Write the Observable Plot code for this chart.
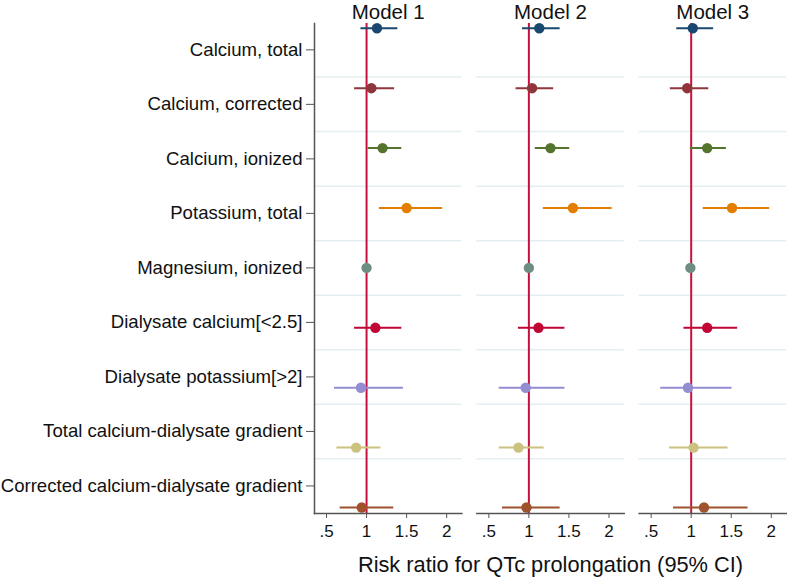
<!DOCTYPE html>
<html>
<head>
<meta charset="utf-8">
<script src="https://cdn.jsdelivr.net/npm/d3@7"></script>
<script src="https://cdn.jsdelivr.net/npm/@observablehq/plot@0.6"></script>
<style>
  html, body { margin: 0; padding: 0; background: #fff; }
  #chart svg { display: block; }
</style>
</head>
<body>
<div id="chart"></div>
<script>
// ---- data ----
const variables = [
  "Calcium, total",
  "Calcium, corrected",
  "Calcium, ionized",
  "Potassium, total",
  "Magnesium, ionized",
  "Dialysate calcium[<2.5]",
  "Dialysate potassium[>2]",
  "Total calcium-dialysate gradient",
  "Corrected calcium-dialysate gradient"
];
const models = ["Model 1", "Model 2", "Model 3"];
const rowPos = [1, 2, 3, 4, 5, 6, 7, 8, 9];
const labelPos = [1.36, 2.27, 3.18, 4.09, 5.0, 5.91, 6.82, 7.73, 8.64];
const colors = ["#1a476f", "#90353b", "#55752f", "#e37e00", "#6e8e84",
                "#c10534", "#938dd2", "#cac27e", "#a0522d"];
const xTicks = [0.5, 1, 1.5, 2];
const xLabel = "Risk ratio for QTc prolongation (95% CI)";
const refValue = 1;

const rr1 = [1.13, 1.06, 1.20, 1.50, 1.00, 1.11, 0.93, 0.87, 0.94];
const lo1 = [0.93, 0.85, 1.02, 1.16, 0.99, 0.85, 0.60, 0.63, 0.67];
const hi1 = [1.39, 1.35, 1.44, 1.95, 1.01, 1.44, 1.46, 1.18, 1.34];

const rr2 = [1.13, 1.04, 1.27, 1.55, 1.00, 1.12, 0.96, 0.87, 0.97];
const lo2 = [0.92, 0.84, 1.08, 1.18, 0.99, 0.87, 0.63, 0.63, 0.67];
const hi2 = [1.39, 1.31, 1.51, 2.04, 1.01, 1.45, 1.45, 1.19, 1.39];

const rr3 = [1.02, 0.95, 1.20, 1.51, 0.99, 1.20, 0.96, 1.03, 1.16];
const lo3 = [0.82, 0.74, 0.99, 1.15, 0.98, 0.91, 0.62, 0.73, 0.78];
const hi3 = [1.28, 1.22, 1.44, 1.98, 1.00, 1.58, 1.51, 1.46, 1.71];

// ---- build table ----
const series = [[rr1, lo1, hi1], [rr2, lo2, hi2], [rr3, lo3, hi3]];
const rows = [];
models.forEach((m, mi) => {
  const [rr, lo, hi] = series[mi];
  variables.forEach((v, i) => {
    rows.push({model: m, variable: v, pos: rowPos[i], rr: rr[i], lo: lo[i], hi: hi[i], color: colors[i]});
  });
});
const gridPos = d3.pairs(labelPos, (a, b) => (a + b) / 2);

const font = "'Liberation Sans', Arial, Helvetica, sans-serif";

const chart = Plot.plot({
  width: 787,
  height: 579,
  marginLeft: 314,
  marginRight: 1,
  marginTop: 23,
  marginBottom: 66,
  style: {fontFamily: font, color: "#111", background: "#fff"},
  fx: {domain: models, paddingInner: 0.092, paddingOuter: 0, round: false},
  x: {domain: [0.35, 2.19]},
  y: {domain: [0.92, 9.1], reverse: true},
  marks: [
    Plot.ruleY(gridPos, {stroke: "#e4eef1", strokeWidth: 1.5}),
    Plot.ruleX([refValue], {stroke: "#c8103e", strokeWidth: 2}),
    Plot.ruleY(rows, {fx: "model", y: "pos", x1: "lo", x2: "hi", stroke: "color", strokeWidth: 2}),
    Plot.dot(rows, {fx: "model", x: "rr", y: "pos", fill: "color", r: 5.2, stroke: "none"}),
    Plot.frame({anchor: "bottom", stroke: "#555", strokeWidth: 1.5}),
    Plot.frame({anchor: "left", facetAnchor: "left", stroke: "#555", strokeWidth: 1.5}),
    Plot.axisX({ticks: xTicks, tickFormat: d => d === 0.5 ? ".5" : String(d), tickSize: 5, tickPadding: 6,
                fontSize: 17, label: null, stroke: "#555", fill: "#111"}),
    Plot.axisY({ticks: labelPos, tickFormat: (d, i) => variables[i], tickSize: 8, tickPadding: 4,
                fontSize: 18.6, label: null, stroke: "#555", fill: "#111"}),
    Plot.axisFx({anchor: "top", tickSize: 0, tickPadding: 5, fontSize: 20.5, label: null, fill: "#111"}),
    Plot.text([{m: models[1], t: xLabel}], {fx: "m", text: "t", frameAnchor: "bottom", dy: 52,
               lineAnchor: "middle", fontSize: 21.8, fill: "#111"})
  ]
});
document.getElementById("chart").appendChild(chart);
</script>
</body>
</html>
